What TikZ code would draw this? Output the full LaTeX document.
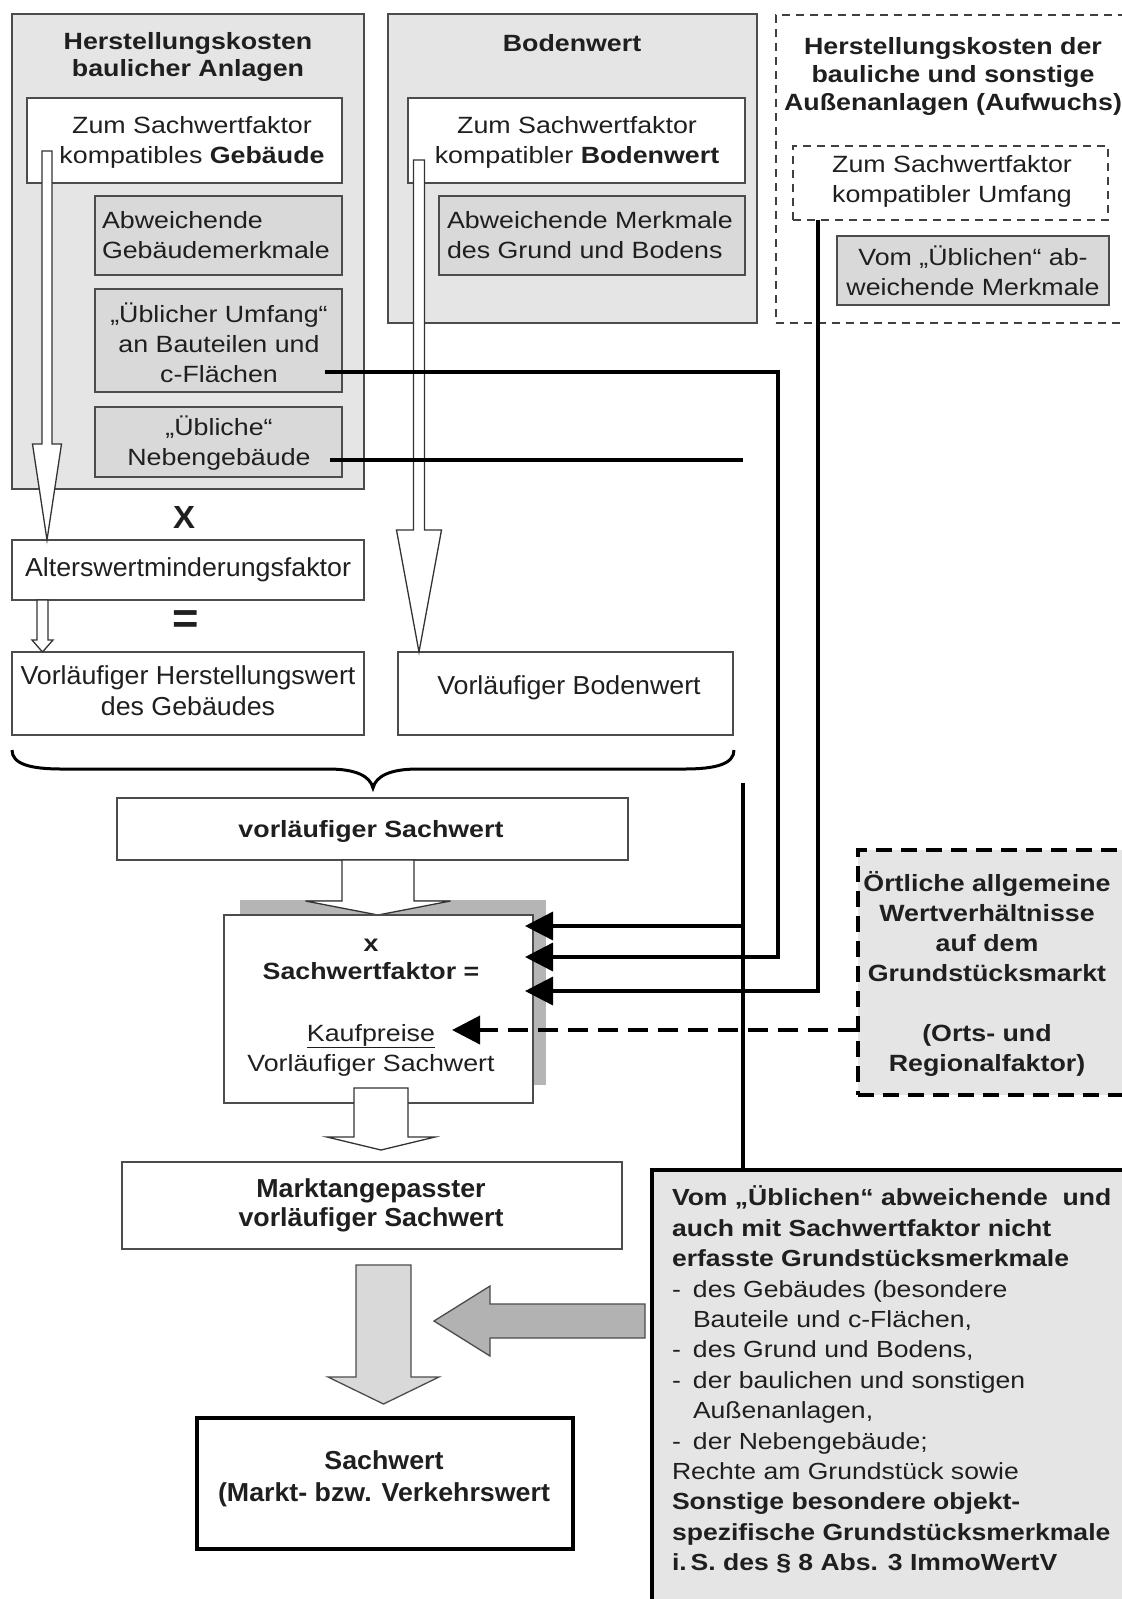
\documentclass[tikz,border=0pt]{standalone}
\usepackage{fontspec}
\setmainfont{Liberation Sans}[FakeStretch=1.14]
\newfontfamily\narrowfont{Liberation Sans}[FakeStretch=1.03]
\usetikzlibrary{arrows.meta,calc}

% vertical block arrow: #1 style, #2 top point, #3 tip point,
% #4 half shaft width, #5 half head width, #6 head length (all in pt)
\newcommand{\blockdown}[6]{%
  \path[#1] let \p1=(#2), \p2=(#3) in
    (\x2-#4pt,\y1) -- (\x2+#4pt,\y1) -- (\x2+#4pt,\y2+#6pt) -- (\x2+#5pt,\y2+#6pt)
    -- (\x2,\y2) -- (\x2-#5pt,\y2+#6pt) -- (\x2-#4pt,\y2+#6pt) -- cycle;}
% leftward block arrow: #2 tail point, #3 tip point
\newcommand{\blockleft}[6]{%
  \path[#1] let \p1=(#2), \p2=(#3) in
    (\x1,\y2+#4pt) -- (\x2+#6pt,\y2+#4pt) -- (\x2+#6pt,\y2+#5pt) -- (\x2,\y2)
    -- (\x2+#6pt,\y2-#5pt) -- (\x2+#6pt,\y2-#4pt) -- (\x1,\y2-#4pt) -- cycle;}

\tikzset{
  every node/.style={inner sep=0pt, outer sep=0pt, text=black!88},
  boxline/.style={rectangle, draw=black!70, line width=1.4pt},
  outerbox/.style={boxline, fill=black!10},
  innerbox/.style={boxline, fill=black!15},
  whitebox/.style={boxline, fill=white},
  dashbox/.style={rectangle, draw=black!75, line width=1.4pt, dash pattern=on 8pt off 6pt},
  txt/.style={font=\fontsize{23.5}{30}\selectfont, align=center},
  ltxt/.style={font=\fontsize{23.5}{30}\selectfont, align=left},
  btxt/.style={font=\fontsize{23.5}{27.5}\selectfont\bfseries, align=center},
  ntxt/.style={font=\narrowfont\fontsize{26}{31}\selectfont, align=center},
  nbtxt/.style={font=\narrowfont\fontsize{26}{29}\selectfont\bfseries, align=center},
  hollow/.style={draw=black!80, line width=1.3pt, fill=white, line join=miter},
  grayarrow/.style={draw=black!70, line width=1.3pt, line join=miter},
  conn/.style={draw=black, line width=3.5pt},
  endtip/.style={-{Triangle[length=28pt,width=28pt]}},
  dconn/.style={draw=black, line width=4pt, dash pattern=on 20pt off 10pt},
}

\begin{document}
\begin{tikzpicture}[x=1pt, y=-1pt]
\useasboundingbox (0,0) rectangle (1122,1599);
\clip (0,0) rectangle (1122,1599);
\fill[white] (0,0) rectangle (1122,1599);

% ---- building costs ----
\node[outerbox, minimum width=352pt, minimum height=475pt] (hkBox) at (188,251.5) {};
\node[btxt] (hkTitle) at (188,57) {Herstellungskosten\\baulicher Anlagen};
\node[whitebox, minimum width=315pt, minimum height=85pt] (hkWhite) at (184.5,140.5) {};
\node[txt] (hkWhiteT) at (192,142) {Zum Sachwertfaktor\\kompatibles \textbf{Gebäude}};
\node[innerbox, minimum width=247pt, minimum height=79pt] (hkAbw) at (218.5,235.5) {};
\node[ltxt, anchor=west] (hkAbwT) at (102,235.5) {Abweichende\\Gebäudemerkmale};
\node[innerbox, minimum width=247pt, minimum height=103pt] (hkUmf) at (218.5,340.5) {};
\node[txt] (hkUmfT) at (219,342.5) {„Üblicher Umfang“\\an Bauteilen und\\c-Flächen};
\node[innerbox, minimum width=247pt, minimum height=70pt] (hkNeb) at (218.5,442) {};
\node[txt] (hkNebT) at (219,443.5) {„Übliche“\\Nebengebäude};

% ---- land value ----
\node[outerbox, minimum width=369pt, minimum height=309pt] (bwBox) at (572.5,168.5) {};
\node[btxt] (bwTitle) at (572,43) {Bodenwert};
\node[whitebox, minimum width=337pt, minimum height=85pt] (bwWhite) at (576.5,140.5) {};
\node[txt] (bwWhiteT) at (577,142) {Zum Sachwertfaktor\\kompatibler \textbf{Bodenwert}};
\node[innerbox, minimum width=306pt, minimum height=79pt] (bwAbw) at (592,235.5) {};
\node[ltxt, anchor=west] (bwAbwT) at (447,235.5) {Abweichende Merkmale\\des Grund und Bodens};

% ---- outdoor facilities ----
\node[dashbox, minimum width=364pt, minimum height=308pt] (akBox) at (958,169) {};
\node[btxt, font=\fontsize{23.5}{28}\selectfont\bfseries] (akTitle) at (953,76)
  {Herstellungskosten der\\bauliche und sonstige\\Außenanlagen (Aufwuchs)};
\node[dashbox, minimum width=315pt, minimum height=74pt] (akInner) at (950.5,183) {};
\node[txt] (akInnerT) at (952,181.5) {Zum Sachwertfaktor\\kompatibler Umfang};
\node[innerbox, minimum width=272pt, minimum height=69pt] (akAbw) at (973,270.5) {};
\node[txt] (akAbwT) at (973,271) {Vom „Üblichen“ ab-\\weichende Merkmale};

% ---- middle column ----
\node[font=\narrowfont\fontsize{32}{32}\selectfont\bfseries] (times) at (184,517) {X};
\node[whitebox, minimum width=352pt, minimum height=60pt] (hkAlt) at (188,570) {};
\node[ntxt] (hkAltT) at (188,570) {Alterswertminderungsfaktor};
\node[font=\narrowfont\fontsize{44}{44}\selectfont\bfseries] (equals) at (186,622) {=};
\node[whitebox, minimum width=352pt, minimum height=83pt] (vorlHW) at (188,693.5) {};
\node[ntxt] (vorlHWT) at (188,690.5) {Vorläufiger Herstellungswert\\des Gebäudes};
\node[whitebox, minimum width=335pt, minimum height=83pt] (vorlBW) at (565.5,693.5) {};
\node[ntxt] (vorlBWT) at (569,688) {Vorläufiger Bodenwert};

% hollow arrows
\coordinate (aTopL) at (47,151);
\coordinate (aTopB) at (419,160);
\coordinate (aTopS) at (42.5,600);
\blockdown{hollow}{aTopL}{aTopL |- hkAlt.north}{5}{14.5}{96}
\blockdown{hollow}{aTopB}{aTopB |- vorlBW.north}{5.5}{22.5}{122}
\blockdown{hollow}{aTopS}{aTopS |- vorlHW.north}{5.5}{10.5}{12}

% brace
\draw[line width=3pt] (12,750) .. controls (12,764) and (30,769) .. (62,769) -- (328,769)
  .. controls (356,769) and (370,776) .. (373,788)
  .. controls (376,776) and (390,769) .. (418,769) -- (684,769)
  .. controls (716,769) and (734,764) .. (734,750);

\node[whitebox, minimum width=511pt, minimum height=62pt] (vorlSW) at (372.5,829) {};
\node[btxt] (vorlSWT) at (371,831) {vorläufiger Sachwert};

% market adjustment
\fill[black!29] (240,900) rectangle (546,1085);
\coordinate (aTopM) at (378,860);
\coordinate (aTipM) at (378,915);
\blockdown{hollow}{aTopM}{aTipM}{36}{72.5}{14}
\node[whitebox, minimum width=309pt, minimum height=188pt] (swfBox) at (378.5,1009) {};
\node[btxt, font=\fontsize{23.5}{28}\selectfont\bfseries] (swfT) at (371,959) {x\\Sachwertfaktor =};
\node[txt] (swfFrac) at (371,1050) {\underline{Kaufpreise}\\Vorläufiger Sachwert};
\coordinate (aTopK) at (381,1088);
\coordinate (aTipK) at (381,1150);
\blockdown{hollow}{aTopK}{aTipK}{27}{54}{13}

\node[whitebox, minimum width=500pt, minimum height=87pt] (marktBox) at (372,1205.5) {};
\node[nbtxt] (marktT) at (371,1205.5) {Marktangepasster\\vorläufiger Sachwert};

\node[rectangle, draw=black, line width=3.5pt, fill=white, minimum width=376pt, minimum height=131pt] (swBox) at (385,1483.5) {};
\node[nbtxt, font=\narrowfont\fontsize{26}{32}\selectfont\bfseries] (swT) at (384,1479) {Sachwert\\(Markt- bzw. Verkehrswert};

\coordinate (aTopG) at (383.5,1265);
\coordinate (aTipG) at (383.5,1404);
\blockdown{grayarrow, fill=black!15}{aTopG}{aTipG}{27.5}{55.5}{27}
\coordinate (aTailH) at (645,1321);
\coordinate (aTipH) at (434,1321);
\blockleft{grayarrow, fill=black!30}{aTailH}{aTipH}{17}{35}{56}

% ---- local market conditions ----
\node[rectangle, draw=black, line width=4pt, dash pattern=on 16pt off 9pt, fill=black!10,
  minimum width=282pt, minimum height=245pt] (ortBox) at (999,972.5) {};
\node[btxt, font=\fontsize{23.5}{30}\selectfont\bfseries] (ortT) at (987,974)
  {Örtliche allgemeine\\Wertverhältnisse\\auf dem\\Grundstücksmarkt\\[30pt](Orts- und\\Regionalfaktor)};

% ---- special property characteristics ----
\node[rectangle, draw=black, line width=3.5pt, fill=black!10, minimum width=488pt, minimum height=470pt] (specBox) at (896,1405) {};
\node[align=left, anchor=north west, font=\fontsize{23.3}{30.4}\selectfont] (specT) at (672,1186) {%
\textbf{Vom „Üblichen“ abweichende\ \ und}\\
\textbf{auch mit Sachwertfaktor nicht}\\
\textbf{erfasste Grundstücksmerkmale}\\
\makebox[21pt][l]{-}des Gebäudes (besondere\\
\hspace*{21pt}Bauteile und c-Flächen,\\
\makebox[21pt][l]{-}des Grund und Bodens,\\
\makebox[21pt][l]{-}der baulichen und sonstigen\\
\hspace*{21pt}Außenanlagen,\\
\makebox[21pt][l]{-}der Nebengebäude;\\
Rechte am Grundstück sowie\\
\textbf{Sonstige besondere objekt-}\\
\textbf{spezifische Grundstücksmerkmale}\\
\textbf{i.\,S. des § 8 Abs. 3 ImmoWertV}};

% ---- connectors ----
\coordinate (umfStart) at (325,372);
\coordinate (colB) at (778,372);
\coordinate (nebStart) at (330,460);
\coordinate (nebEnd) at (743,460);
\coordinate (mainTop) at (743,783);
\coordinate (colC) at (818,220);
\coordinate (tipA) at (525,926);
\coordinate (tipB) at (525,957);
\coordinate (tipC) at (525,991);
\coordinate (tipD) at (452,1030);

\draw[conn, endtip] (umfStart) -- (colB) |- (tipB);
\draw[conn] (nebStart) -- (nebEnd);
\draw[conn] (mainTop) -- (mainTop |- specBox.north);
\draw[conn, endtip] (mainTop |- tipA) -- (tipA);
\draw[conn, endtip] (colC) |- (tipC);
\draw[dconn, endtip] (ortBox.west |- tipD) -- (tipD);
\end{tikzpicture}
\end{document}
